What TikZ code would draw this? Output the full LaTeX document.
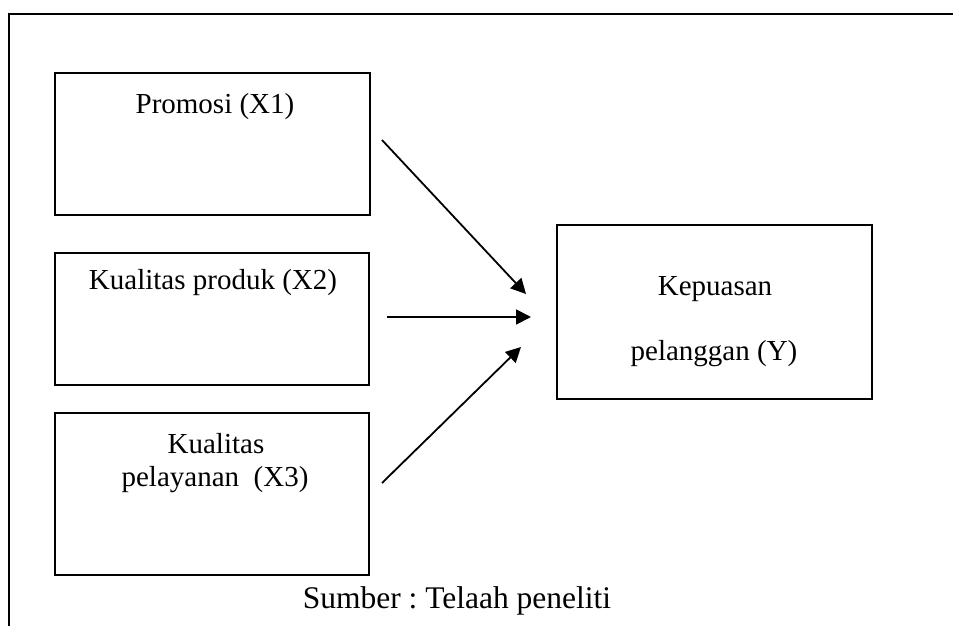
\documentclass[tikz,border=0pt]{standalone}
\usepackage{fontspec}
\setmainfont{Liberation Serif}
\usetikzlibrary{arrows.meta}
\frenchspacing
\tikzset{
  box/.style={draw, line width=1.6pt, inner sep=0pt},
  lbl/.style={anchor=base, inner sep=0pt, font=\fontsize{29}{34}\selectfont},
  src/.style={anchor=base, inner sep=0pt, font=\fontsize{31.5}{38}\selectfont},
  arr/.style={line width=1.8pt, -{Triangle[length=15pt,width=15pt]}},
  frame/.style={line width=2pt}
}
\begin{document}
\begin{tikzpicture}[x=1pt,y=-1pt]
\useasboundingbox (0,0) rectangle (953,626);
% outer frame (open to right and bottom)
\coordinate (f1) at (9,640);
\coordinate (f2) at (9,14);
\coordinate (f3) at (960,14);
\draw[frame] (f1) -- (f2) -- (f3);
% boxes
\node[box, minimum width=315pt, minimum height=142pt] (b1) at (212.5,144) {};
\node[box, minimum width=314pt, minimum height=132pt] (b2) at (212,319) {};
\node[box, minimum width=314pt, minimum height=162pt] (b3) at (212,494) {};
\node[box, minimum width=315pt, minimum height=174pt] (by) at (714.5,312) {};
% labels
\node[lbl] (t1) at (215,113) {Promosi (X1)};
\node[lbl] (t2) at (213,289) {Kualitas produk (X2)};
\node[lbl] (t3a) at (216,453) {Kualitas};
\node[lbl] (t3b) at (215,486) {pelayanan\ \ (X3)};
\node[lbl] (ty1) at (715,295) {Kepuasan};
\node[lbl] (ty2) at (714,360) {pelanggan (Y)};
\node[src] (s) at (457,608) {Sumber : Telaah peneliti};
% arrows
\coordinate (a1s) at (382,140);
\coordinate (a1e) at (526,294);
\coordinate (a2s) at (387,317);
\coordinate (a2e) at (531,317);
\coordinate (a3s) at (382,483);
\coordinate (a3e) at (521,347);
\draw[arr] (a1s) -- (a1e);
\draw[arr] (a2s) -- (a2e);
\draw[arr] (a3s) -- (a3e);
\end{tikzpicture}
\end{document}
